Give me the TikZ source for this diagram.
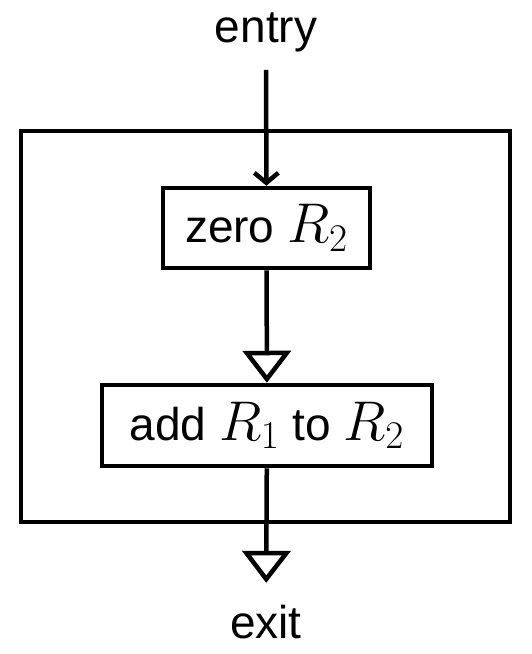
\documentclass[tikz,border=0pt]{standalone}
\usepackage{fix-cm}
\usepackage{fontspec}
\setmainfont{Liberation Sans}
\DeclareMathSizes{23}{28}{19.6}{14}
\usetikzlibrary{arrows.meta}
\begin{document}
\begin{tikzpicture}[x=0.5pt,y=-0.5pt,line width=2.25pt,
  txt/.style={inner sep=0pt,font=\fontsize{23}{28}\selectfont},
  blk/.style={draw,inner sep=0pt,font=\fontsize{23}{28}\selectfont},
  opentri/.style={-{Triangle[open,length=16pt,width=24pt]}},
  barb/.style={-{Straight Barb[length=5pt,width=12pt]}}]
\useasboundingbox (0,0) rectangle (531,654);
\node[draw,minimum width=244.5pt,minimum height=195.5pt,inner sep=0pt] (outer) at (265.5,326.5) {};
\node[txt] (entry) at (266,32) {entry};
\node[blk,minimum width=103.5pt,minimum height=40pt] (z) at (266.5,228) {zero $R_2$};
\node[blk,minimum width=165pt,minimum height=40.5pt] (a) at (267,425.5) {add $R_1$ to $R_2$};
\node[txt] (exit) at (266,622) {exit};
\draw[barb,shorten <=8pt] (entry) -- (z);
\draw[opentri] (z) -- (a);
\draw[opentri,shorten >=10pt] (a) -- (exit);
\end{tikzpicture}
\end{document}
